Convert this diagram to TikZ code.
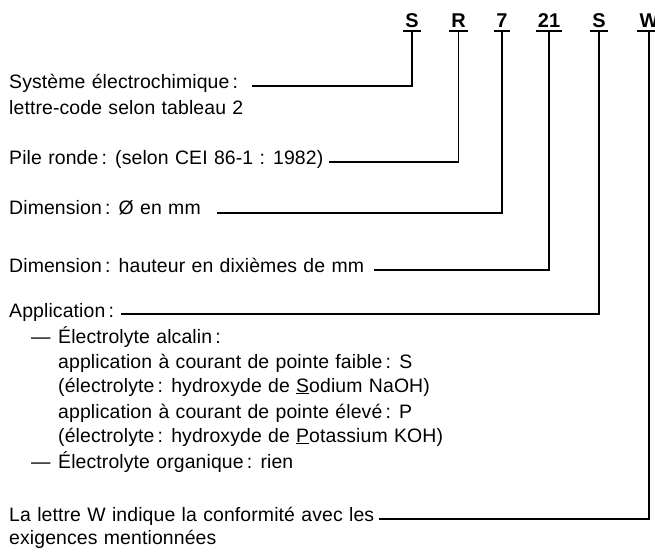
\documentclass[tikz,border=0pt]{standalone}
\usepackage{fontspec}
\setmainfont[LetterSpace=0.6,WordSpace=1.15]{Liberation Sans}
\newfontfamily\codefont{Liberation Sans}
\usepackage{tikz}
\usetikzlibrary{positioning}
\tikzstyle{Code}=[font=\codefont\fontsize{20}{24}\selectfont\bfseries, inner sep=0pt, anchor=base]
\tikzstyle{Label}=[font=\fontsize{19.5}{23}\selectfont, inner sep=0pt, anchor=base west]
\tikzstyle{Lead}=[line width=1.1pt]

\begin{document}
\begin{tikzpicture}[x=1bp, y=-1bp]
    \useasboundingbox (0,0) rectangle (655,552);
    % code letters
    \path
    (412,28) node[Code] (cS) {S}
    (458.5,28) node[Code] (cR) {R}
    (502,28) node[Code] (c7) {7}
    (549,28) node[Code] (c21) {21}
    (599,28) node[Code] (cA) {S}
    (649,28) node[Code] (cW) {W};
    \foreach \c in {cS,cR,c7,c21,cA,cW}
        \draw[Lead] ([xshift=-2pt,yshift=-3pt]\c.base west) -- ([xshift=2pt,yshift=-3pt]\c.base east);

    % labels
    \path
    (9,89) node[Label] (sys) {Système électrochimique\,:}
    (9,115) node[Label] {lettre-code selon tableau 2}
    (9,165) node[Label] (pile) {Pile ronde\,: (selon CEI 86-1 : 1982)}
    (9,215) node[Label] (dia) {Dimension\,: Ø en mm}
    (9,272) node[Label] (haut) {Dimension\,: hauteur en dixièmes de mm}
    (9,317) node[Label] (app) {Application\,:}
    (31,343) node[Label] {---}
    (58,343) node[Label] {Électrolyte alcalin\,:}
    (58,368) node[Label] {application à courant de pointe faible\,: S}
    (58,392) node[Label] {(électrolyte\,: hydroxyde de \underline{S}odium NaOH)}
    (58,418) node[Label] {application à courant de pointe élevé\,: P}
    (58,442) node[Label] {(électrolyte\,: hydroxyde de \underline{P}otassium KOH)}
    (31,468) node[Label] {---}
    (58,468) node[Label] {Électrolyte organique\,: rien}
    (9,521) node[Label] (conf) {La lettre W indique la conformité avec les}
    (9,544) node[Label] {exigences mentionnées};

    % leaders
    \draw[Lead] ([xshift=14pt,yshift=3pt]sys.base east) -| ([yshift=-3pt]cS.base);
    \draw[Lead] ([xshift=5pt,yshift=3pt]pile.base east) -| ([yshift=-3pt]cR.base);
    \draw[Lead] ([xshift=16pt,yshift=2pt]dia.base east) -| ([yshift=-3pt]c7.base);
    \draw[Lead] ([xshift=10pt,yshift=2pt]haut.base east) -| ([yshift=-3pt]c21.base);
    \draw[Lead] ([xshift=7pt,yshift=3pt]app.base east) -| ([yshift=-3pt]cA.base);
    \draw[Lead] ([xshift=5pt,yshift=2pt]conf.base east) -| ([yshift=-3pt]cW.base);
\end{tikzpicture}
\end{document}
